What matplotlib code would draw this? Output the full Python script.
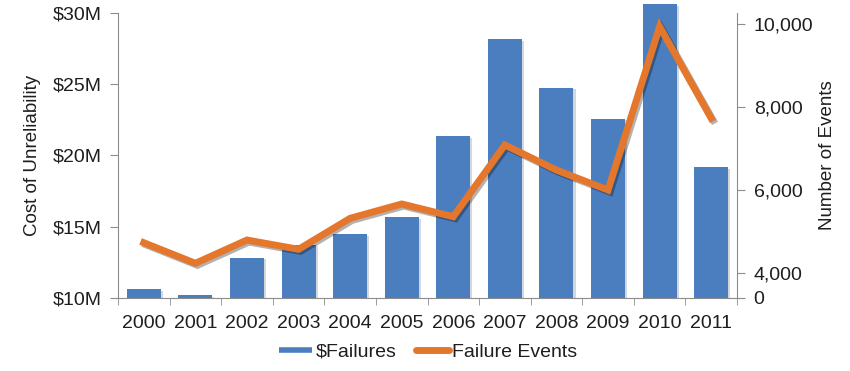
import matplotlib
matplotlib.use("Agg")
import matplotlib.pyplot as plt
import matplotlib.patheffects as pe
from matplotlib.lines import Line2D
import numpy as np

years = ["2000", "2001", "2002", "2003", "2004", "2005",
         "2006", "2007", "2008", "2009", "2010", "2011"]
cost_musd = [10.61, 10.19, 12.82, 13.71, 14.46, 15.66,
             21.33, 28.14, 24.74, 22.58, 30.58, 19.15]
failure_events = [4730, 4234, 4795, 4571, 5318, 5663,
                  5357, 7085, 6480, 6000, 9936, 7728]

left_ticks = [10, 15, 20, 25, 30]
left_labels = ["$10M", "$15M", "$20M", "$25M", "$30M"]
# right axis is drawn "broken" in the original: bottom labelled 0
right_ticks = [3398, 4000, 6000, 8000, 10000]
right_labels = ["0", "4,000", "6,000", "8,000", "10,000"]

BLUE = "#4a7ebf"
ORANGE = "#e5772c"
GRAY = "#8c8c8c"
TXT = "#1e1e1e"

plt.rcParams["font.family"] = ["Liberation Sans", "DejaVu Sans"]
plt.rcParams["font.size"] = 14

fig = plt.figure(figsize=(8.5, 3.71), dpi=100)
ax = fig.add_axes([118 / 850, 1 - 298 / 371, (737 - 118) / 850, (298 - 12.7) / 371])
ax2 = ax.twinx()

ymin = left_ticks[0]
x = np.arange(len(years))
# bars start at the axis floor so the tallest one can poke above the top unclipped
bars = ax.bar(x, np.array(cost_musd) - ymin, bottom=ymin, width=0.66,
              color=BLUE, zorder=2, clip_on=False)
for b in bars:
    b.set_path_effects([pe.SimplePatchShadow(offset=(1.5, -1), alpha=0.18), pe.Normal()])

ax.set_xlim(-0.5, len(years) - 0.5)
ax.set_ylim(ymin, left_ticks[-1])
ax.set_yticks(left_ticks)
ax.set_yticklabels(left_labels, color=TXT)
ax.set_ylabel("Cost of Unreliability", color=TXT, fontsize=13.5, labelpad=8)

ax.set_xticks(x)
ax.set_xticklabels(years, color=TXT)
ax.set_xticks(np.arange(len(years) + 1) - 0.5, minor=True)
ax.tick_params(axis="x", which="major", length=0, pad=12)
ax.tick_params(axis="x", which="minor", length=5, color=GRAY, direction="out")
ax.tick_params(axis="y", length=6, color=GRAY, pad=6)

ax2.plot(x, failure_events, color=ORANGE, lw=5, solid_joinstyle="miter", zorder=3,
         path_effects=[pe.SimpleLineShadow(offset=(1.5, -1.5), alpha=0.3), pe.Normal()])
ax2.set_ylim(3398, 10272)
ax2.set_yticks(right_ticks)
ax2.set_yticklabels(right_labels, color=TXT)
ax2.tick_params(axis="y", length=6, color=GRAY, pad=6)
ax2.set_ylabel("Number of Events", color=TXT, fontsize=13.5, labelpad=4)

for a in (ax, ax2):
    a.spines["top"].set_visible(False)
    for s in ("left", "right", "bottom"):
        a.spines[s].set_color(GRAY)
        a.spines[s].set_linewidth(0.8)
ax.spines["right"].set_visible(False)
ax2.spines["left"].set_visible(False)
ax2.spines["bottom"].set_visible(False)

handles = [Line2D([], [], color=BLUE, lw=4, solid_capstyle="butt"),
           Line2D([], [], color=ORANGE, lw=5, solid_capstyle="round")]
fig.legend(handles, ["$Failures", "Failure Events"], loc="center",
           bbox_to_anchor=(428 / 850, 1 - 352 / 371), ncol=2, frameon=False,
           handlelength=1.7, handletextpad=0.15, columnspacing=1.0, fontsize=14,
           labelcolor=TXT)

fig.savefig("out.png", dpi=100)
